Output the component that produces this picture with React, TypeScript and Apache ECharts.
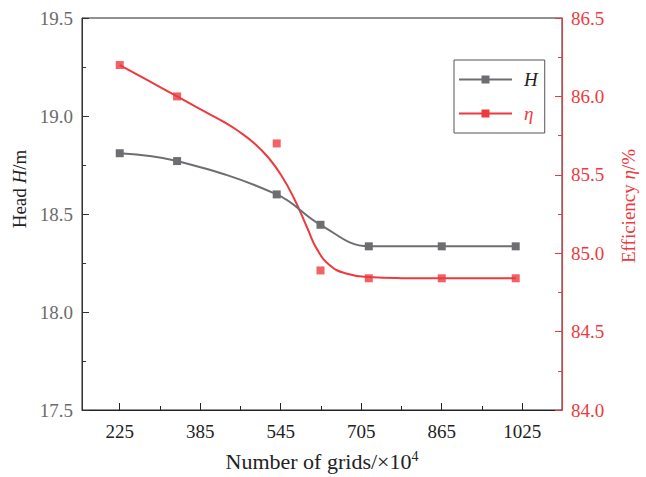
import React, { useEffect, useRef } from "react";
import * as echarts from "echarts";

// Grid counts (x, ×10^4) and measured values
const gridCounts = [225, 339, 537, 624, 720, 865, 1012];
const headValues = [18.81, 18.77, 18.6, 18.445, 18.335, 18.335, 18.335];
const effValues = [86.2, 86.0, 85.7, 84.89, 84.84, 84.84, 84.84];

// Fitted efficiency curve
const effFitX = [225, 282, 339, 384, 430, 462, 495, 520, 546, 572, 598, 617, 643, 675, 720, 785, 865, 940, 1012];
const effFitY = [86.2, 86.1, 86.0, 85.92, 85.84, 85.776, 85.694, 85.611, 85.497, 85.346, 85.159, 85.026, 84.922, 84.871, 84.848, 84.841, 84.84, 84.84, 84.84];

// Axis tick values
const xMajorTicks = [225, 385, 545, 705, 865, 1025];
const xMinorTicks = [305, 465, 625, 785, 945];

const FONT = "'Liberation Serif', 'Times New Roman', serif";
const GRAY = "#6d6e72";
const RED = "#ee3a3f";
const DARK = "#222222";

export default function App() {
  const ref = useRef<HTMLDivElement>(null);

  useEffect(() => {
    if (!ref.current) return;
    const chart = echarts.init(ref.current, undefined, { renderer: "svg" });
    const option: any = {
      animation: false,
      backgroundColor: "#ffffff",
      grid: {
        left: 82,
        right: 72,
        top: 18,
        bottom: 64,
        show: true,
        borderColor: DARK,
        borderWidth: 1,
        backgroundColor: "transparent",
      },
      legend: {
        orient: "vertical",
        left: 454,
        top: 60,
        padding: [10, 7, 10, 4],
        itemWidth: 53,
        itemHeight: 10,
        itemGap: 15,
        borderColor: "#555",
        borderWidth: 1,
        textStyle: {
          fontFamily: FONT,
          fontStyle: "italic",
          fontSize: 19,
          lineHeight: 18,
          padding: [0, 0, 0, 7],
        },
        data: [
          { name: "H", textStyle: { color: DARK } },
          { name: "η", textStyle: { color: RED } },
        ],
      },
      xAxis: [
        {
          type: "value",
          min: 150,
          max: 1104,
          splitLine: { show: false },
          axisLine: { show: true, lineStyle: { color: DARK, width: 1 } },
          axisTick: {
            show: true,
            inside: true,
            length: 7,
            customValues: xMajorTicks,
            lineStyle: { color: DARK },
          },
          axisLabel: {
            customValues: xMajorTicks,
            color: DARK,
            fontFamily: FONT,
            fontSize: 19,
            margin: 12,
            formatter: (v: number) => String(v),
          },
          name: "{a|Number of grids/×10}{s|4}",
          nameLocation: "middle",
          nameGap: 39,
          nameTextStyle: {
            rich: {
              a: { fontFamily: FONT, fontSize: 22, color: DARK, lineHeight: 24 },
              s: { fontFamily: FONT, fontSize: 14, color: DARK, verticalAlign: "top", lineHeight: 14 },
            },
          },
        },
        {
          type: "value",
          min: 150,
          max: 1104,
          position: "bottom",
          splitLine: { show: false },
          axisLine: { show: false },
          axisTick: {
            show: true,
            inside: true,
            length: 4,
            customValues: xMinorTicks,
            lineStyle: { color: DARK },
          },
          axisLabel: { show: false },
        },
      ],
      yAxis: [
        {
          type: "value",
          min: 17.5,
          max: 19.5,
          interval: 0.5,
          position: "left",
          splitLine: { show: false },
          axisLine: { show: true, lineStyle: { color: "#333" } },
          axisTick: { show: true, inside: true, length: 7, lineStyle: { color: "#333" } },
          minorTick: { show: true, splitNumber: 2, length: 4, lineStyle: { color: "#333" } },
          axisLabel: {
            color: "#6b6b6b",
            fontFamily: FONT,
            fontSize: 19,
            margin: 9,
            formatter: (v: number) => v.toFixed(1),
          },
          name: "{a|Head }{b|H}{a|/m}",
          nameLocation: "middle",
          nameRotate: 90,
          nameGap: 47,
          nameTextStyle: {
            padding: [0, 0, 0, 50],
            rich: {
              a: { fontFamily: FONT, fontSize: 19, color: DARK },
              b: { fontFamily: FONT, fontSize: 19, color: DARK, fontStyle: "italic" },
            },
          },
        },
        {
          type: "value",
          min: 84,
          max: 86.5,
          interval: 0.5,
          position: "right",
          splitLine: { show: false },
          axisLine: { show: true, lineStyle: { color: RED } },
          axisTick: { show: true, inside: true, length: 7, lineStyle: { color: RED } },
          minorTick: { show: true, splitNumber: 2, length: 4, lineStyle: { color: RED } },
          axisLabel: {
            color: RED,
            fontFamily: FONT,
            fontSize: 19,
            margin: 9,
            formatter: (v: number) => v.toFixed(1),
          },
          name: "{a|Efficiency }{b|η}{a|/%}",
          nameLocation: "middle",
          nameRotate: 90,
          nameGap: 57,
          nameTextStyle: {
            padding: [0, 0, 0, 16],
            rich: {
              a: { fontFamily: FONT, fontSize: 19, color: RED },
              b: { fontFamily: FONT, fontSize: 19, color: RED, fontStyle: "italic" },
            },
          },
        },
      ],
      series: [
        {
          name: "H",
          type: "line",
          xAxisIndex: 0,
          yAxisIndex: 0,
          smooth: 0.4,
          data: gridCounts.map((x, i) => [x, headValues[i]]),
          symbol: "rect",
          symbolSize: 8,
          itemStyle: { color: GRAY },
          lineStyle: { color: GRAY, width: 2 },
          z: 3,
        },
        {
          name: "η",
          type: "line",
          xAxisIndex: 0,
          yAxisIndex: 1,
          smooth: 0.5,
          data: effFitX.map((x, i) => [x, effFitY[i]]),
          symbol: "rect",
          symbolSize: 8,
          showSymbol: false,
          itemStyle: { color: RED },
          lineStyle: { color: RED, width: 2 },
          z: 2,
        },
        {
          name: "η data",
          type: "scatter",
          xAxisIndex: 0,
          yAxisIndex: 1,
          data: gridCounts.map((x, i) => [x, effValues[i]]),
          symbol: "rect",
          symbolSize: 8,
          itemStyle: { color: RED },
          z: 4,
        },
      ],
    };
    chart.setOption(option);
    return () => chart.dispose();
  }, []);

  return (
    <div
      ref={ref}
      style={{ position: "fixed", left: 0, top: 0, width: 646, height: 477, background: "#fff" }}
    />
  );
}
